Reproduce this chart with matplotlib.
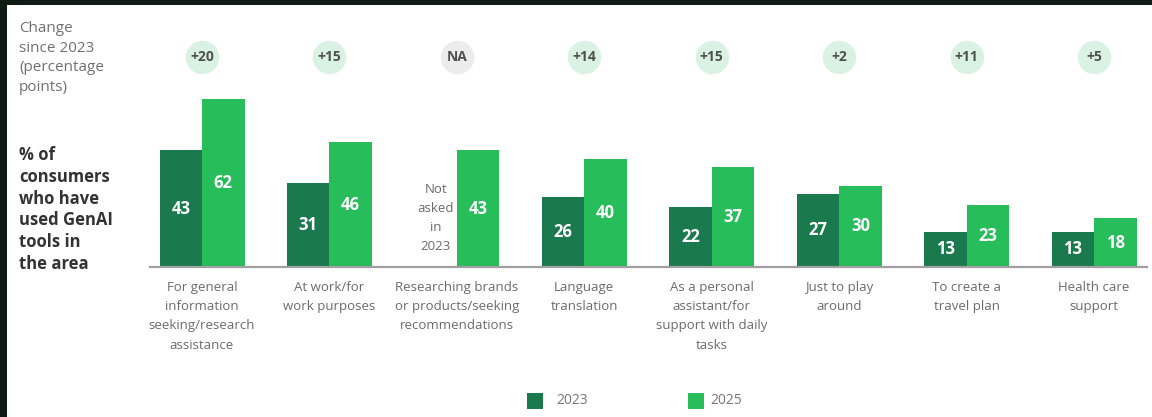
import matplotlib
matplotlib.use("Agg")
import matplotlib.pyplot as plt
from matplotlib.patches import Rectangle
from matplotlib.transforms import blended_transform_factory

plt.rcParams["font.family"] = ["Open Sans", "DejaVu Sans"]

categories = [
    "For general\ninformation\nseeking/research\nassistance",
    "At work/for\nwork purposes",
    "Researching brands\nor products/seeking\nrecommendations",
    "Language\ntranslation",
    "As a personal\nassistant/for\nsupport with daily\ntasks",
    "Just to play\naround",
    "To create a\ntravel plan",
    "Health care\nsupport",
]
values_2023 = [43, 31, None, 26, 22, 27, 13, 13]
values_2025 = [62, 46, 43, 40, 37, 30, 23, 18]
changes = ["+20", "+15", "NA", "+14", "+15", "+2", "+11", "+5"]
series_labels = ["2023", "2025"]

DARK = "#1a7a4e"
LIGHT = "#27bd5b"
BORDER = "#0d1b14"

W, H = 1152, 417
fig = plt.figure(figsize=(W / 100, H / 100), dpi=100)
fig.patch.set_facecolor(BORDER)
fig.patches.append(Rectangle((7 / W, 0), 1 - 7 / W, 1 - 5 / H,
                             transform=fig.transFigure, facecolor="white",
                             edgecolor="none", zorder=-5))


def fx(px):
    return px / W


def fy(py):
    return 1 - py / H


# plot area: baseline at 267 px, 2.71 px per percentage point
base_px, top_px = 267, 80
ax = fig.add_axes([fx(150), fy(base_px), fx(1147) - fx(150), (base_px - top_px) / H])
ax.set_facecolor("none")
ax.set_zorder(2)
step = (1094 - 202) / 7
ax.set_xlim(-(202 - 150) / step, 7 + (1147 - 1094) / step)
ax.set_ylim(0, (base_px - top_px) / 2.71)
ax.axis("off")

GRAY = "#6b6b6b"
bw = 42.5 / step
x = list(range(len(categories)))
for i in x:
    v23, v25 = values_2023[i], values_2025[i]
    if v23 is not None:
        ax.bar(i - bw / 2, v23, width=bw, color=DARK, linewidth=0)
        ax.text(i - bw / 2, v23 / 2, str(v23), ha="center", va="center",
                color="white", fontsize=12, fontweight="bold")
    else:
        ax.text(i - bw / 2, (base_px - 218) / 2.71, "Not\nasked\nin\n2023",
                ha="center", va="center", color=GRAY, fontsize=9.5, linespacing=1.58)
    ax.bar(i + bw / 2, v25, width=bw, color=LIGHT, linewidth=0)
    ax.text(i + bw / 2, v25 / 2, str(v25), ha="center", va="center",
            color="white", fontsize=12, fontweight="bold")

ax.axhline(0, color="#a0a0a0", linewidth=1.6, zorder=3, clip_on=False)

# category labels beneath the baseline
for i, c in enumerate(categories):
    ax.text(i, -(281 - base_px) / 2.71, c, ha="center", va="top",
            color=GRAY, fontsize=9.5, linespacing=1.62, clip_on=False)

# change bubbles
trans = blended_transform_factory(ax.transData, fig.transFigure)
for i, ch in enumerate(changes):
    col = "#ececec" if ch == "NA" else "#daf2e3"
    ax.scatter([i], [fy(57)], s=580, color=col, transform=trans, clip_on=False,
               linewidths=0, zorder=2)
    ax.text(i, fy(57), ch, transform=trans, ha="center", va="center",
            color="#505050", fontsize=10, fontweight="bold", zorder=3)

# left-hand row headers
fig.text(fx(19), fy(21), "Change\nsince 2023\n(percentage\npoints)", ha="left", va="top",
         color="#707070", fontsize=11, linespacing=1.42)
fig.text(fx(19), fy(146), "% of\nconsumers\nwho have\nused GenAI\ntools in\nthe area",
         ha="left", va="top", color="#333333", fontsize=12, fontweight="bold",
         linespacing=1.27)

# legend
for (sx, tx), lab, col in zip([(527, 556), (688, 710)], series_labels, [DARK, LIGHT]):
    fig.patches.append(Rectangle((fx(sx), fy(409)), 16 / W, 16 / H,
                                 transform=fig.transFigure, facecolor=col,
                                 edgecolor="none"))
    fig.text(fx(tx), fy(401), lab, ha="left", va="center", color="#777777",
             fontsize=10)

fig.savefig("out.png", dpi=100, facecolor=fig.get_facecolor())
